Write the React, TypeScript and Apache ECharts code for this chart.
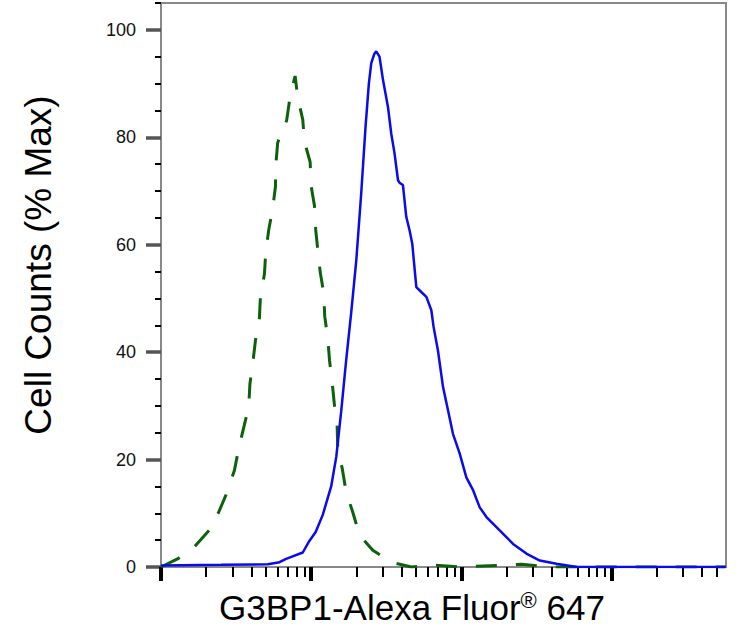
import { useEffect, useRef } from 'react';
import * as echarts from 'echarts';

// log10 fluorescence positions and % max counts
const isoLogFl = [
  0, 0.11, 0.22, 0.32, 0.384, 0.44, 0.489, 0.517, 0.551, 0.584, 0.592, 0.611, 0.629, 0.655,
  0.662, 0.689, 0.697, 0.717, 0.744, 0.762, 0.765, 0.777, 0.795, 0.81, 0.837, 0.86, 0.893,
  0.911, 0.944, 0.955, 0.993, 1.0, 1.022, 1.03, 1.044, 1.06, 1.084, 1.09, 1.111, 1.122, 1.14,
  1.155, 1.173, 1.177, 1.207, 1.233, 1.277, 1.322, 1.41, 1.533, 1.667, 1.8, 2.0, 2.4, 2.6, 3.76,
];
const isoCounts = [
  0, 1.5, 3.7, 6.8, 10.2, 13.9, 18, 22, 26, 29.8, 34.1, 37.9, 42.2, 46.3,
  50.3, 54.6, 58.5, 62.7, 66.8, 70.8, 75, 79, 80.4, 80.8, 83.2, 87.7, 91.4,
  87.3, 83.3, 79.2, 75.4, 70.9, 67.2, 62.8, 59, 54.9, 50.9, 46.7, 42.5, 38.5, 34.3,
  30.1, 26.1, 22, 18.3, 13.9, 10.2, 5.9, 3.1, 0.9, 0, 0.4, 0, 0.5, 0, 0,
];

const g3bp1LogFl = [
  0, 0.4, 0.711, 0.789, 0.833, 0.944, 0.989, 1.03, 1.077, 1.133, 1.167, 1.2, 1.233, 1.267,
  1.3, 1.333, 1.362, 1.384, 1.4, 1.42, 1.433, 1.455, 1.478, 1.511, 1.533, 1.555, 1.578,
  1.59, 1.611, 1.633, 1.655, 1.673, 1.7, 1.733, 1.767, 1.8, 1.815, 1.844, 1.878, 1.911,
  1.944, 1.989, 2.033, 2.078, 2.122, 2.167, 2.255, 2.344, 2.433, 2.522, 2.633, 2.767, 3.76,
];
const g3bp1Counts = [
  0.3, 0.4, 0.5, 0.9, 1.5, 2.7, 4.9, 6.5, 9.7, 15, 20.5, 29, 38.5, 47.5,
  57, 69.5, 82, 90, 93.8, 95.5, 96, 95, 90.7, 85.7, 80.7, 77, 72,
  71.5, 71.1, 65.2, 62.7, 60.2, 52.1, 51.2, 50.3, 47.8, 44.7, 40.3, 33.5, 29.2,
  24.8, 21.1, 16.7, 14.3, 11.1, 9.3, 6.8, 4.3, 2.5, 1.2, 0.6, 0, 0,
];

const yLabels = [0, 20, 40, 60, 80, 100];
const yMinor = [5, 10, 15, 25, 30, 35, 45, 50, 55, 65, 70, 75, 85, 90, 95, 105];
const decades = [0, 1, 2, 3];
const multipliers = [2, 3, 4, 5, 6, 7, 8, 9];

const X_MAX = 3.762;
const FONT = '"Liberation Sans", Arial, Helvetica, sans-serif';

export default function App() {
  const chartRef = useRef<HTMLDivElement>(null);

  useEffect(() => {
    if (!chartRef.current) {
      return;
    }
    const chart = echarts.init(chartRef.current, null, { renderer: 'svg' });

    const minorX: number[] = [];
    decades.forEach((d) => {
      multipliers.forEach((m) => {
        const v = d + Math.log10(m);
        if (v <= X_MAX) minorX.push(v);
      });
    });

    const option: echarts.EChartsOption = {
      animation: false,
      backgroundColor: '#ffffff',
      grid: {
        left: 161,
        right: 23,
        top: 3,
        bottom: 75,
        show: true,
        borderColor: '#888888',
        borderWidth: 2,
        backgroundColor: 'transparent',
      },
      xAxis: [
        {
          type: 'value',
          min: 0,
          max: X_MAX,
          axisLine: { show: true, lineStyle: { color: '#888888', width: 2 } },
          axisTick: {
            show: true,
            customValues: decades,
            length: 14,
            lineStyle: { color: '#000000', width: 4 },
          },
          axisLabel: { show: false },
          splitLine: { show: false },
        },
        {
          type: 'value',
          min: 0,
          max: X_MAX,
          position: 'bottom',
          axisLine: { show: false },
          axisTick: {
            show: true,
            customValues: minorX,
            length: 10,
            lineStyle: { color: '#000000', width: 2 },
          },
          axisLabel: { show: false },
          splitLine: { show: false },
        },
      ],
      yAxis: [
        {
          type: 'value',
          min: 0,
          max: 105,
          axisLine: { show: true, lineStyle: { color: '#888888', width: 2 } },
          axisTick: {
            show: true,
            customValues: yLabels,
            length: 15,
            lineStyle: { color: '#555555', width: 3.5 },
          },
          axisLabel: {
            show: true,
            customValues: yLabels,
            margin: 25,
            color: '#111111',
            fontSize: 18,
            fontFamily: FONT,
          },
          splitLine: { show: false },
        },
        {
          type: 'value',
          min: 0,
          max: 105,
          position: 'left',
          axisLine: { show: false },
          axisTick: {
            show: true,
            customValues: yMinor,
            length: 6,
            lineStyle: { color: '#000000', width: 2 },
          },
          axisLabel: { show: false },
          splitLine: { show: false },
        },
      ],
      series: [
        {
          name: 'Isotype control',
          type: 'line',
          data: isoLogFl.map((x, i) => [x, isoCounts[i]]),
          showSymbol: false,
          z: 2,
          lineStyle: { color: '#0b620b', width: 3, type: [21, 19] },
        },
        {
          name: 'G3BP1',
          type: 'line',
          data: g3bp1LogFl.map((x, i) => [x, g3bp1Counts[i]]),
          showSymbol: false,
          z: 3,
          lineStyle: { color: '#0a0aee', width: 2.5 },
        },
      ],
      graphic: [
        {
          type: 'text',
          x: 38,
          y: 265,
          rotation: Math.PI / 2,
          style: {
            text: 'Cell Counts (% Max)',
            fill: '#000000',
            fontSize: 37,
            fontFamily: FONT,
            align: 'center',
            verticalAlign: 'middle',
          },
        },
        {
          type: 'text',
          x: 412,
          y: 607,
          style: {
            text: 'G3BP1-Alexa Fluor{sup|®} 647',
            fill: '#000000',
            fontSize: 35,
            fontFamily: FONT,
            align: 'center',
            verticalAlign: 'middle',
            rich: {
              sup: {
                fontSize: 22,
                fontFamily: FONT,
                fill: '#000000',
                verticalAlign: 'top',
              },
            },
          },
        },
      ],
    };

    chart.setOption(option);

    return () => {
      chart.dispose();
    };
  }, []);

  return (
    <div
      ref={chartRef}
      style={{ position: 'absolute', left: 0, top: 0, width: '749px', height: '642px' }}
    />
  );
}
